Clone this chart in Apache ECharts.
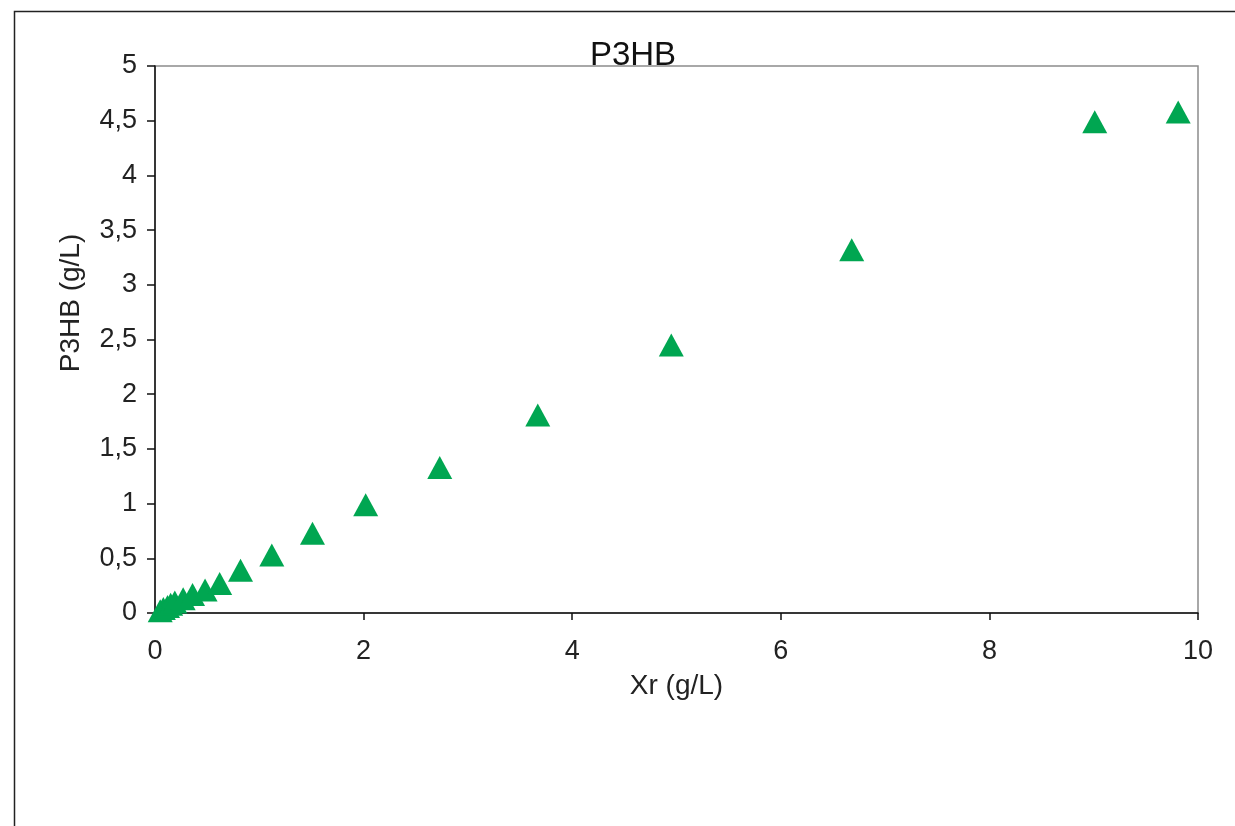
<!DOCTYPE html>
<html>
<head>
<meta charset="utf-8">
<script src="https://cdn.jsdelivr.net/npm/echarts@6/dist/echarts.min.js"></script>
<style>
html,body{margin:0;padding:0;background:#fff;}
#chart{width:1235px;height:826px;}
</style>
</head>
<body>
<div id="chart"></div>
<script>
const chartTitle = 'P3HB';
const xAxisName = 'Xr (g/L)';
const yAxisName = 'P3HB (g/L)';
const xrValues = [0.05, 0.08, 0.12, 0.15, 0.19, 0.27, 0.36, 0.48, 0.62, 0.82, 1.12, 1.51, 2.02, 2.73, 3.67, 4.95, 6.68, 9.01, 9.81];
const p3hbValues = [0.02, 0.04, 0.06, 0.08, 0.10, 0.13, 0.17, 0.21, 0.27, 0.39, 0.53, 0.73, 0.99, 1.33, 1.81, 2.45, 3.32, 4.49, 4.58];

const points = xrValues.map((x, i) => [x, p3hbValues[i]]);
const fontFam = "'Liberation Sans', Arial, sans-serif";

const chart = echarts.init(document.getElementById('chart'), null, {renderer: 'canvas'});
chart.setOption({
  backgroundColor: '#ffffff',
  animation: false,
  graphic: [{
    type: 'rect',
    left: 12, top: 9,
    shape: {width: 1260, height: 860},
    style: {fill: 'none', stroke: '#222', lineWidth: 1.5},
    z: 100
  }, {
    type: 'text',
    x: 71, y: 303,
    rotation: Math.PI / 2,
    style: {
      text: yAxisName,
      fontFamily: fontFam, fontSize: 28, fill: '#222',
      align: 'center', verticalAlign: 'middle'
    },
    z: 100
  }],
  title: {
    text: chartTitle,
    left: 628, top: 34,
    textAlign: 'center',
    textStyle: {fontFamily: fontFam, fontSize: 33, fontWeight: 'normal', color: '#111'}
  },
  grid: {
    left: 155, right: 37, top: 66, bottom: 213,
    show: true, borderColor: '#8c8c8c', borderWidth: 1.5, backgroundColor: '#fff'
  },
  xAxis: {
    type: 'value', min: 0, max: 10, interval: 2,
    name: xAxisName, nameLocation: 'middle', nameGap: 59,
    nameTextStyle: {fontFamily: fontFam, fontSize: 28, color: '#222'},
    axisLine: {show: true, onZero: false, lineStyle: {color: '#111', width: 1.5}},
    axisTick: {show: true, inside: false, length: 7, lineStyle: {color: '#111', width: 1.5}},
    axisLabel: {fontFamily: fontFam, fontSize: 27, color: '#222', margin: 25},
    splitLine: {show: false}
  },
  yAxis: {
    type: 'value', min: 0, max: 5, interval: 0.5,
    axisLine: {show: true, onZero: false, lineStyle: {color: '#111', width: 1.5}},
    axisTick: {show: true, inside: false, length: 8, lineStyle: {color: '#111', width: 1.5}},
    axisLabel: {
      fontFamily: fontFam, fontSize: 27, color: '#222', margin: 18,
      formatter: v => String(v).replace('.', ',')
    },
    splitLine: {show: false}
  },
  series: [{
    type: 'scatter',
    data: points,
    symbol: 'triangle',
    symbolSize: [25, 23],
    itemStyle: {color: '#00a651', opacity: 1},
    clip: false
  }]
});
</script>
</body>
</html>
